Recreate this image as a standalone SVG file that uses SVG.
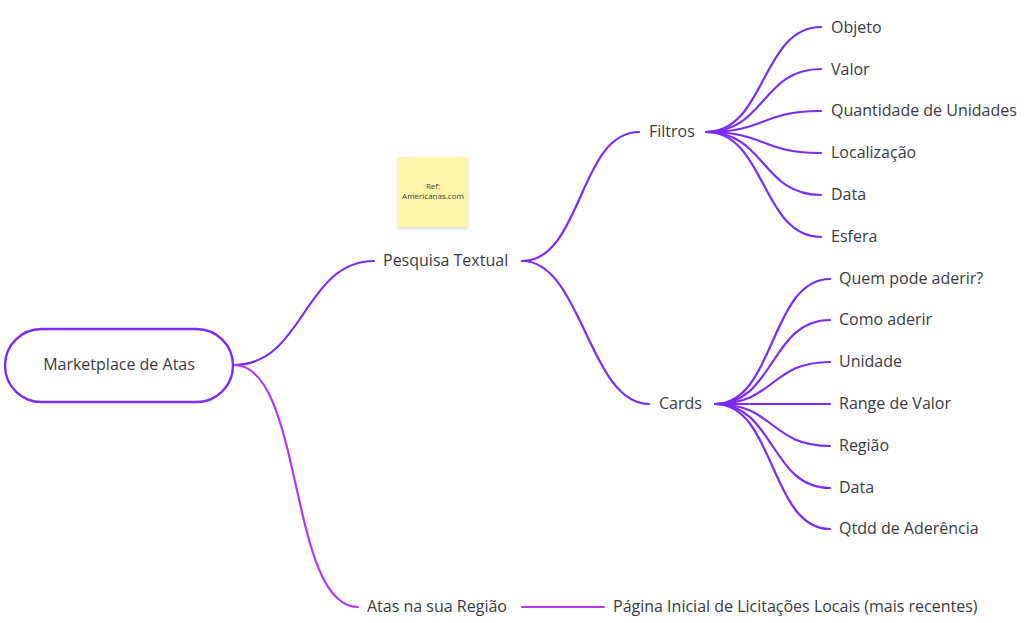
<svg xmlns="http://www.w3.org/2000/svg" width="1029" height="623" viewBox="0 0 1029 623">
<defs>
<filter id="sh" x="-20%" y="-20%" width="140%" height="140%"><feDropShadow dx="0" dy="2" stdDeviation="1.5" flood-color="#000" flood-opacity="0.15"/></filter>
</defs>
<style>
text{font-family:"Open Sans","Noto Sans",sans-serif;font-size:16px;fill:#3a3a3f;dominant-baseline:auto}
.c path{fill:none;stroke-width:2.2;stroke-linecap:round}
.v path{stroke:#7b2cf5}
.m path{stroke:#b537f2}
</style>
<rect width="1029" height="623" fill="#fff"/>
<g id="connectors" class="c">
<g class="v">
<path d="M234 365C304 365 304 261 374 261"/>
<path d="M522 261C582 261 579 132 639 132"/>
<path d="M522 261C582 261 589 404 649 404"/>
<path d="M706 132C766 132 761 27 821 27"/>
<path d="M706 132C766 132 761 69 821 69"/>
<path d="M706 132C766 132 761 111 821 111"/>
<path d="M706 132C766 132 761 153 821 153"/>
<path d="M706 132C766 132 761 195 821 195"/>
<path d="M706 132C766 132 761 237 821 237"/>
<path d="M715 404C775 404 770 279 830 279"/>
<path d="M715 404C775 404 770 320 830 320"/>
<path d="M715 404C775 404 770 362 830 362"/>
<path d="M715 404H830"/>
<path d="M715 404C775 404 770 446 830 446"/>
<path d="M715 404C775 404 770 488 830 488"/>
<path d="M715 404C775 404 770 529 830 529"/>
</g>
<g class="m">
<path d="M234 365C304 365 288 607 358 607"/>
<path d="M522 607H604"/>
</g>
</g>
<g id="root"><rect x="5" y="329" width="228" height="73" rx="36.5" fill="#fff" stroke="#7b2cf5" stroke-width="2.4"/><text x="119" y="370" text-anchor="middle">Marketplace de Atas</text></g>
<g id="sticky"><rect x="398" y="157" width="70" height="70" fill="#fff6a8" filter="url(#sh)"/><text x="433" y="189" text-anchor="middle" style="font-size:8px">Ref:</text><text x="433" y="199" text-anchor="middle" style="font-size:8px">Americanas.com</text></g>
<g id="n-pesquisa"><text x="383" y="266">Pesquisa Textual</text></g>
<g id="n-filtros"><text x="649" y="137">Filtros</text></g>
<g id="n-cards"><text x="659" y="409">Cards</text></g>
<g id="n-atas"><text x="367" y="612">Atas na sua Região</text></g>
<g id="n-pagina"><text x="613" y="612">Página Inicial de Licitações Locais (mais recentes)</text></g>
<g id="n-objeto"><text x="831" y="33">Objeto</text></g>
<g id="n-valor"><text x="831" y="75">Valor</text></g>
<g id="n-quantidade"><text x="831" y="116">Quantidade de Unidades</text></g>
<g id="n-localizacao"><text x="831" y="158">Localização</text></g>
<g id="n-data1"><text x="831" y="200">Data</text></g>
<g id="n-esfera"><text x="831" y="242">Esfera</text></g>
<g id="n-quem"><text x="839" y="284">Quem pode aderir?</text></g>
<g id="n-como"><text x="839" y="325">Como aderir</text></g>
<g id="n-unidade"><text x="839" y="367">Unidade</text></g>
<g id="n-range"><text x="839" y="409">Range de Valor</text></g>
<g id="n-regiao"><text x="839" y="451">Região</text></g>
<g id="n-data2"><text x="839" y="493">Data</text></g>
<g id="n-qtdd"><text x="839" y="534">Qtdd de Aderência</text></g>
</svg>
